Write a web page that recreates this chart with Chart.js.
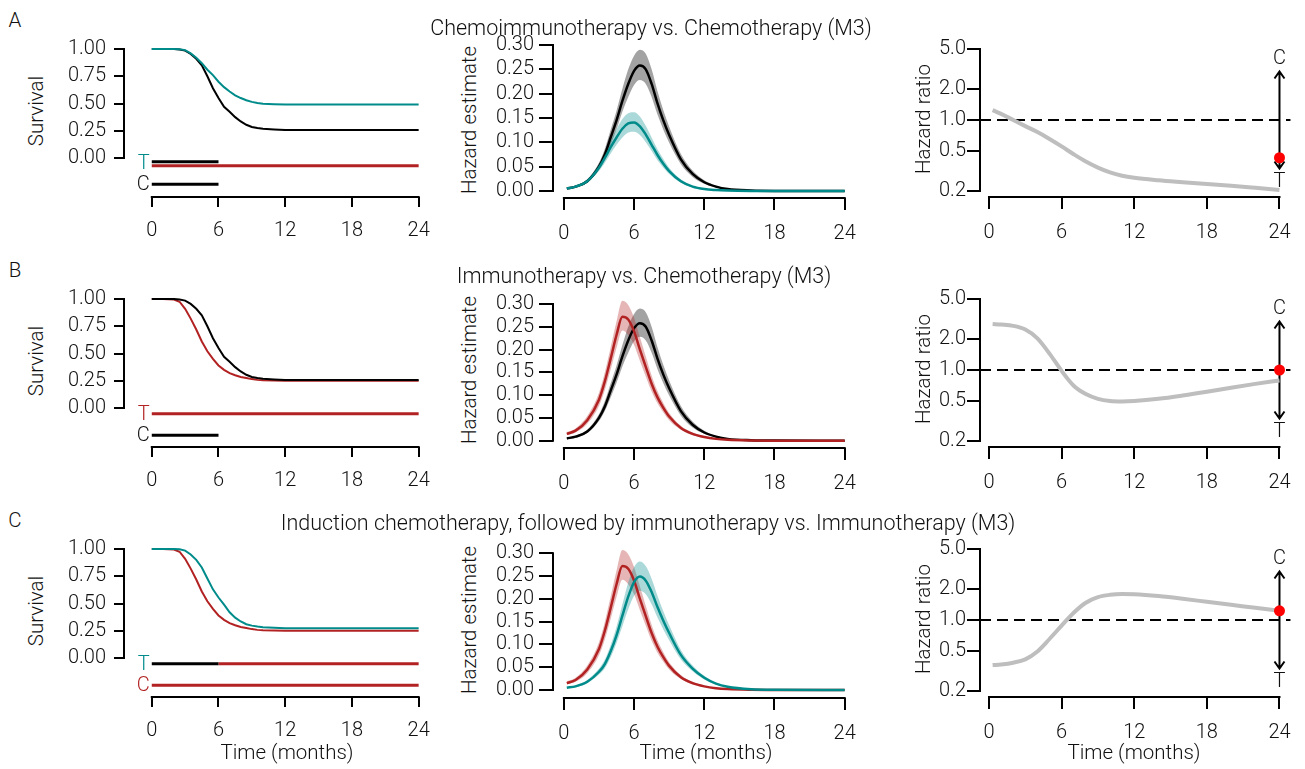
<!DOCTYPE html>
<html>
<head>
<meta charset="utf-8">
<title>Survival, hazard and hazard ratio (M3)</title>
<script src="https://cdn.jsdelivr.net/npm/chart.js@4/dist/chart.umd.min.js"></script>
<style>
  body { margin: 0; background: #fff; width: 1305px; height: 769px; position: relative; overflow: hidden;
         font-family: Roboto, "Liberation Sans", sans-serif; font-weight: 300; color: #111; }
  canvas { position: absolute; }
  .lbl { position: absolute; white-space: nowrap; font-size: 20.5px; line-height: 1; transform: translate(-50%, -50%); }
  .ttl { font-size: 21.5px; }
  .rot { transform: translate(-50%, -50%) rotate(-90deg); }
</style>
</head>
<body>
<script>
// ---- axis ticks ----
const months = [0, 6, 12, 18, 24];
const survTicks = [0, 0.25, 0.5, 0.75, 1];
const hazTicks = [0, 0.05, 0.1, 0.15, 0.2, 0.25, 0.3];
const hrTicks = [0.2, 0.5, 1, 2, 5];

// ---- Kaplan-Meier survival ----
const survTime        = [0, 1, 2, 2.5, 3, 3.5, 4, 4.5, 5, 5.5, 6, 6.5, 7, 7.5, 8, 8.5, 9, 9.5, 10, 11, 12, 24];
const survChemo       = [1, 1, 1, 0.995, 0.985, 0.955, 0.91, 0.85, 0.75, 0.64, 0.55, 0.47, 0.425, 0.375, 0.335, 0.305, 0.285, 0.275, 0.268, 0.262, 0.258, 0.258];
const survChemoImmuno = [1, 1, 1, 0.998, 0.99, 0.96, 0.92, 0.87, 0.81, 0.76, 0.7, 0.65, 0.61, 0.575, 0.55, 0.53, 0.515, 0.505, 0.498, 0.493, 0.49, 0.49];
const survImmuno      = [1, 1, 0.995, 0.975, 0.91, 0.82, 0.72, 0.61, 0.52, 0.45, 0.39, 0.35, 0.32, 0.3, 0.285, 0.275, 0.265, 0.258, 0.255, 0.252, 0.25, 0.25];
const survInduction   = [1, 1, 1, 0.998, 0.985, 0.95, 0.9, 0.83, 0.73, 0.63, 0.555, 0.49, 0.42, 0.37, 0.335, 0.31, 0.297, 0.288, 0.282, 0.277, 0.274, 0.274];

// treatment periods (months)
const chemoPeriod = [0, 6];
const immunoPeriod = [0, 24];
const maintenancePeriod = [6, 24];

// ---- hazard estimates with bands ----
const hazTime          = [0.25, 1, 2, 3, 3.5, 4, 4.5, 5, 5.5, 6, 6.5, 7, 7.5, 8, 8.5, 9, 10, 11, 12, 13, 14, 16, 18, 24];
const hazChemo         = [0.005, 0.009, 0.02, 0.05, 0.075, 0.11, 0.145, 0.185, 0.22, 0.247, 0.258, 0.25, 0.22, 0.18, 0.145, 0.115, 0.065, 0.035, 0.018, 0.009, 0.004, 0.001, 0.0002, 0];
const hazChemoHi       = [0.006, 0.011, 0.024, 0.058, 0.087, 0.126, 0.165, 0.21, 0.25, 0.278, 0.29, 0.282, 0.25, 0.205, 0.166, 0.132, 0.076, 0.042, 0.022, 0.011, 0.005, 0.0013, 0.0003, 0];
const hazChemoLo       = [0.004, 0.007, 0.017, 0.043, 0.065, 0.095, 0.127, 0.163, 0.193, 0.218, 0.228, 0.22, 0.193, 0.157, 0.126, 0.099, 0.055, 0.029, 0.015, 0.007, 0.003, 0.0008, 0.0001, 0];
const hazChemoImmuno   = [0.005, 0.009, 0.02, 0.048, 0.068, 0.09, 0.11, 0.128, 0.139, 0.141, 0.133, 0.116, 0.095, 0.074, 0.056, 0.041, 0.02, 0.009, 0.004, 0.002, 0.001, 0.0002, 0, 0];
const hazChemoImmunoHi = [0.006, 0.011, 0.024, 0.056, 0.079, 0.104, 0.127, 0.148, 0.16, 0.162, 0.153, 0.134, 0.11, 0.086, 0.066, 0.048, 0.024, 0.011, 0.005, 0.0025, 0.0012, 0.0003, 0, 0];
const hazChemoImmunoLo = [0.004, 0.007, 0.017, 0.041, 0.058, 0.077, 0.095, 0.11, 0.12, 0.122, 0.115, 0.1, 0.082, 0.063, 0.048, 0.035, 0.017, 0.0075, 0.0033, 0.0016, 0.0008, 0.0001, 0, 0];
const hazImmuno        = [0.015, 0.022, 0.045, 0.09, 0.13, 0.18, 0.232, 0.272, 0.266, 0.24, 0.2, 0.162, 0.125, 0.095, 0.072, 0.053, 0.028, 0.015, 0.008, 0.004, 0.002, 0.0005, 0.0001, 0];
const hazImmunoHi      = [0.019, 0.027, 0.054, 0.105, 0.15, 0.205, 0.262, 0.307, 0.298, 0.27, 0.227, 0.185, 0.143, 0.109, 0.083, 0.061, 0.033, 0.018, 0.0095, 0.0048, 0.0024, 0.0006, 0.0001, 0];
const hazImmunoLo      = [0.012, 0.018, 0.037, 0.076, 0.111, 0.156, 0.204, 0.242, 0.232, 0.21, 0.175, 0.141, 0.108, 0.082, 0.062, 0.045, 0.024, 0.012, 0.0065, 0.0032, 0.0016, 0.0004, 0.0001, 0];
const hazInduction     = [0.005, 0.008, 0.018, 0.04, 0.057, 0.085, 0.12, 0.163, 0.205, 0.237, 0.249, 0.24, 0.215, 0.182, 0.152, 0.125, 0.077, 0.047, 0.027, 0.014, 0.007, 0.0015, 0.0003, 0];
const hazInductionHi   = [0.006, 0.01, 0.022, 0.047, 0.067, 0.099, 0.139, 0.188, 0.236, 0.27, 0.282, 0.272, 0.244, 0.207, 0.173, 0.142, 0.088, 0.054, 0.031, 0.016, 0.008, 0.0018, 0.0004, 0];
const hazInductionLo   = [0.004, 0.006, 0.015, 0.034, 0.048, 0.072, 0.103, 0.14, 0.177, 0.207, 0.218, 0.21, 0.188, 0.159, 0.133, 0.109, 0.067, 0.041, 0.023, 0.012, 0.006, 0.0012, 0.0002, 0];

// ---- hazard ratio T / C ----
const hrTime = [0.3, 1, 2, 3, 4, 5, 6, 7, 8, 9, 10, 11, 12, 14, 16, 18, 20, 22, 24];
const hrA = [1.25, 1.15, 1.0, 0.87, 0.76, 0.65, 0.55, 0.46, 0.39, 0.34, 0.305, 0.283, 0.27, 0.255, 0.244, 0.234, 0.225, 0.215, 0.205];
const hrB = [2.84, 2.8, 2.72, 2.5, 2.05, 1.45, 0.98, 0.7, 0.58, 0.52, 0.495, 0.49, 0.495, 0.52, 0.56, 0.61, 0.67, 0.73, 0.79];
const hrC = [0.36, 0.365, 0.38, 0.41, 0.49, 0.65, 0.88, 1.18, 1.48, 1.68, 1.77, 1.8, 1.79, 1.72, 1.62, 1.51, 1.41, 1.32, 1.23];
const hrAt24 = [0.425, 1.0, 1.23];

const TEAL = '#008b8b', RED = '#b22222', GREY = '#bebebe', INK = '#111';
const TEAL_BAND = 'rgba(0,139,139,0.33)', RED_BAND = 'rgba(178,34,34,0.33)', GREY_BAND = 'rgba(0,0,0,0.36)';
const FONT = 'Roboto, "Liberation Sans", sans-serif';

Chart.defaults.font.family = FONT;
Chart.defaults.font.size = 20;
Chart.defaults.font.weight = '300';
Chart.defaults.color = INK;

const pts = (xs, ys) => xs.map((x, i) => ({ x, y: ys[i] }));

// axis lines only between first and last tick, base-R style
const rAxes = {
  id: 'rAxes',
  afterDraw(chart, args, o) {
    if (!o.xTicks) return;
    const { ctx, chartArea: a, scales: { x, y } } = chart;
    ctx.save();
    ctx.strokeStyle = '#000';
    ctx.lineWidth = 2;
    ctx.beginPath();
    ctx.moveTo(x.getPixelForValue(o.xTicks[0]) - 1, a.bottom);
    ctx.lineTo(x.getPixelForValue(o.xTicks[o.xTicks.length - 1]) + 1, a.bottom);
    ctx.moveTo(a.left, y.getPixelForValue(o.yTicks[0]) + 1);
    ctx.lineTo(a.left, y.getPixelForValue(o.yTicks[o.yTicks.length - 1]) - 1);
    ctx.stroke();
    ctx.restore();
  }
};

// T / C letters in front of the treatment lanes
const laneMarks = {
  id: 'laneMarks',
  afterDatasetsDraw(chart, args, o) {
    if (!o.labels) return;
    const { ctx, scales: { x, y } } = chart;
    ctx.save();
    ctx.font = '300 20px ' + FONT;
    ctx.textAlign = 'right';
    ctx.textBaseline = 'middle';
    o.labels.forEach(l => {
      ctx.fillStyle = l.color;
      ctx.fillText(l.text, x.getPixelForValue(0) - 2, y.getPixelForValue(l.y) + 1);
    });
    ctx.restore();
  }
};

// reference line at HR = 1 and the C / T arrow
const hrMarks = {
  id: 'hrMarks',
  beforeDatasetsDraw(chart, args, o) {
    if (!o.at) return;
    const { ctx, chartArea: a, scales: { x, y } } = chart;
    const y1 = y.getPixelForValue(1);
    ctx.save();
    ctx.strokeStyle = '#000';
    ctx.lineWidth = 2;
    ctx.setLineDash([11, 6]);
    ctx.beginPath();
    ctx.moveTo(a.left, y1);
    ctx.lineTo(a.right, y1);
    ctx.stroke();
    ctx.setLineDash([]);
    const px = x.getPixelForValue(o.at);
    const yHi = y.getPixelForValue(o.hi), yLo = y.getPixelForValue(o.lo);
    ctx.beginPath();
    ctx.moveTo(px, yHi); ctx.lineTo(px, yLo);
    ctx.moveTo(px - 5, yHi + 7); ctx.lineTo(px, yHi); ctx.lineTo(px + 5, yHi + 7);
    ctx.moveTo(px - 5, yLo - 7); ctx.lineTo(px, yLo); ctx.lineTo(px + 5, yLo - 7);
    ctx.stroke();
    ctx.font = '300 20px ' + FONT;
    ctx.fillStyle = INK;
    ctx.textAlign = 'center';
    ctx.textBaseline = 'middle';
    ctx.fillText('C', px, y.getPixelForValue(o.cAt));
    ctx.fillText('T', px, y.getPixelForValue(o.tAt) + 1);
    ctx.restore();
  }
};

Chart.register(rAxes, laneMarks, hrMarks);

// value range that puts v1 at pixel p1 and v2 at pixel p2, over pixels pa..pb
function span(v1, p1, v2, p2, pa, pb) {
  const k = (v2 - v1) / (p2 - p1);
  return [v1 + (pa - p1) * k, v1 + (pb - p1) * k];
}

const TOP = 24; // room above the plot for the top tick label

function panel(p) {
  const b = { l: p.box.l, r: p.box.r, t: p.box.t + p.off, b: p.box.b + p.off };
  const cv = document.createElement('canvas');
  const W = b.r - b.l + p.lm + p.rm, H = b.b - b.t + p.bm + TOP;
  cv.width = W; cv.height = H;
  cv.style.left = (b.l - p.lm) + 'px';
  cv.style.top = (b.t - TOP) + 'px';
  cv.style.width = W + 'px';
  cv.style.height = H + 'px';
  document.body.appendChild(cv);

  const [xMin, xMax] = span(p.xRef[0], p.xRef[1], p.xRef[2], p.xRef[3], b.l, b.r);
  const y1 = p.yRef[1] + p.off, y2 = p.yRef[3] + p.off;
  let yMin, yMax;
  if (p.log) {
    const r = span(Math.log10(p.yRef[0]), y1, Math.log10(p.yRef[2]), y2, b.t, b.b);
    yMax = Math.pow(10, r[0]); yMin = Math.pow(10, r[1]);
  } else {
    [yMax, yMin] = span(p.yRef[0], y1, p.yRef[2], y2, b.t, b.b);
  }
  const tickGrid = len => ({ drawOnChartArea: false, drawTicks: true, tickLength: len, color: '#000', lineWidth: 2 });

  new Chart(cv, {
    type: 'line',
    data: { datasets: p.datasets },
    options: {
      responsive: false,
      animation: false,
      events: [],
      layout: { padding: { top: TOP, right: p.rm, left: 0, bottom: 0 } },
      elements: { point: { radius: 0 }, line: { borderCapStyle: 'butt' } },
      plugins: {
        legend: { display: false },
        tooltip: { enabled: false },
        rAxes: { xTicks: months, yTicks: p.yTicks },
        laneMarks: p.lanes || {},
        hrMarks: p.hr || {}
      },
      scales: {
        x: {
          type: 'linear', min: xMin, max: xMax,
          afterBuildTicks: s => { s.ticks = months.map(v => ({ value: v })); },
          afterFit: s => { s.height = p.bm; },
          ticks: { autoSkip: false, maxRotation: 0, padding: 12, callback: v => String(v) },
          grid: tickGrid(p.xTick),
          border: { display: false }
        },
        y: {
          type: p.log ? 'logarithmic' : 'linear', min: yMin, max: yMax,
          afterBuildTicks: s => { s.ticks = p.yTicks.map(v => ({ value: v })); },
          afterFit: s => { s.width = p.lm; },
          ticks: { autoSkip: false, padding: p.yPad, callback: v => v.toFixed(p.dec) },
          grid: tickGrid(p.yTickLen),
          border: { display: false }
        }
      }
    }
  });
}

function line(xs, ys, color, width, extra) {
  return Object.assign({ data: pts(xs, ys), borderColor: color, borderWidth: width, pointRadius: 0, fill: false, tension: 0 }, extra || {});
}
function lane(period, level, color) {
  return { data: [{ x: period[0], y: level }, { x: period[1], y: level }], borderColor: color, borderWidth: 3, pointRadius: 0, fill: false };
}
function band(hi, lo, color) {
  return [
    { data: pts(hazTime, hi), borderWidth: 0, pointRadius: 0, backgroundColor: color, fill: '+1', cubicInterpolationMode: 'monotone' },
    { data: pts(hazTime, lo), borderWidth: 0, pointRadius: 0, fill: false, cubicInterpolationMode: 'monotone' }
  ];
}

function survivalPanel(off, curves, lanes, labels) {
  panel({
    off, box: { l: 124, t: 30, r: 426, b: 197 }, lm: 64, rm: 16, bm: 44,
    xRef: [0, 152, 24, 421], yRef: [1, 49, 0, 158],
    yTicks: survTicks, dec: 2, xTick: 10, yTickLen: 10, yPad: 8,
    datasets: [...curves, ...lanes],
    lanes: { labels }
  });
}
function hazardPanel(off, yRef, lines, bands) {
  panel({
    off, box: { l: 553, t: 30, r: 852, b: 198 }, lm: 62, rm: 16, bm: 43,
    xRef: [0, 564, 24, 848], yRef,
    yTicks: hazTicks, dec: 2, xTick: 12, yTickLen: 14, yPad: 5,
    datasets: [...lines, ...bands]
  });
}
function ratioPanel(off, hr, dot) {
  panel({
    off, box: { l: 980, t: 30, r: 1291, b: 197 }, lm: 50, rm: 12, bm: 44,
    xRef: [0, 989, 24, 1280], yRef: [5, 49, 0.2, 191], log: true,
    yTicks: hrTicks, dec: 1, xTick: 12, yTickLen: 13, yPad: 1,
    datasets: [
      { data: [{ x: 24, y: dot }], showLine: false, pointRadius: 5.5, pointBackgroundColor: '#ff0000', pointBorderWidth: 0 },
      line(hrTime, hr, GREY, 4, { cubicInterpolationMode: 'monotone' })
    ],
    hr: { at: 24, hi: 3, lo: 1 / 3, cAt: 4, tAt: 0.25 }
  });
}

const hz = (ys, c) => line(hazTime, ys, c, 2.5, { cubicInterpolationMode: 'monotone' });

// A: chemoimmunotherapy vs chemotherapy
survivalPanel(0,
  [line(survTime, survChemoImmuno, TEAL, 2), line(survTime, survChemo, '#000', 2)],
  [lane(chemoPeriod, -0.035, '#000'), lane(immunoPeriod, -0.07, RED), lane(chemoPeriod, -0.24, '#000')],
  [{ text: 'T', y: -0.05, color: TEAL }, { text: 'C', y: -0.24, color: INK }]);
hazardPanel(0, [0.3, 45, 0, 191],
  [hz(hazChemoImmuno, TEAL), hz(hazChemo, '#000')],
  [...band(hazChemoImmunoHi, hazChemoImmunoLo, TEAL_BAND), ...band(hazChemoHi, hazChemoLo, GREY_BAND)]);
ratioPanel(0, hrA, hrAt24[0]);

// B: immunotherapy vs chemotherapy
survivalPanel(250,
  [line(survTime, survChemo, '#000', 2), line(survTime, survImmuno, RED, 2)],
  [lane(immunoPeriod, -0.052, RED), lane(chemoPeriod, -0.25, '#000')],
  [{ text: 'T', y: -0.052, color: RED }, { text: 'C', y: -0.25, color: INK }]);
hazardPanel(250, [0.3, 54, 0, 190.7],
  [hz(hazImmuno, RED), hz(hazChemo, '#000')],
  [...band(hazImmunoHi, hazImmunoLo, RED_BAND), ...band(hazChemoHi, hazChemoLo, GREY_BAND)]);
ratioPanel(250, hrB, hrAt24[1]);

// C: induction chemotherapy then immunotherapy vs immunotherapy
survivalPanel(500,
  [line(survTime, survInduction, TEAL, 2), line(survTime, survImmuno, RED, 2)],
  [lane(chemoPeriod, -0.052, '#000'), lane(maintenancePeriod, -0.052, RED), lane(immunoPeriod, -0.25, RED)],
  [{ text: 'T', y: -0.052, color: TEAL }, { text: 'C', y: -0.25, color: RED }]);
hazardPanel(500, [0.3, 53.3, 0, 190],
  [hz(hazInduction, TEAL), hz(hazImmuno, RED)],
  [...band(hazInductionHi, hazInductionLo, TEAL_BAND), ...band(hazImmunoHi, hazImmunoLo, RED_BAND)]);
ratioPanel(500, hrC, hrAt24[2]);

// headings and axis titles
function text(str, x, y, cls) {
  const d = document.createElement('div');
  d.className = 'lbl' + (cls ? ' ' + cls : '');
  d.textContent = str;
  d.style.left = x + 'px';
  d.style.top = y + 'px';
  document.body.appendChild(d);
}
text('A', 15, 20); text('B', 15, 270); text('C', 15, 520);
text('Chemoimmunotherapy vs. Chemotherapy (M3)', 651, 28, 'ttl');
text('Immunotherapy vs. Chemotherapy (M3)', 644, 276, 'ttl');
text('Induction chemotherapy, followed by immunotherapy vs. Immunotherapy (M3)', 648, 523, 'ttl');
[0, 250, 500].forEach(off => {
  text('Survival', 36, 111 + off, 'rot');
  text('Hazard estimate', 469, 120 + off, 'rot');
  text('Hazard ratio', 923, 119 + off, 'rot');
});
text('Time (months)', 287, 752); text('Time (months)', 706, 752); text('Time (months)', 1134, 752);
</script>
</body>
</html>
